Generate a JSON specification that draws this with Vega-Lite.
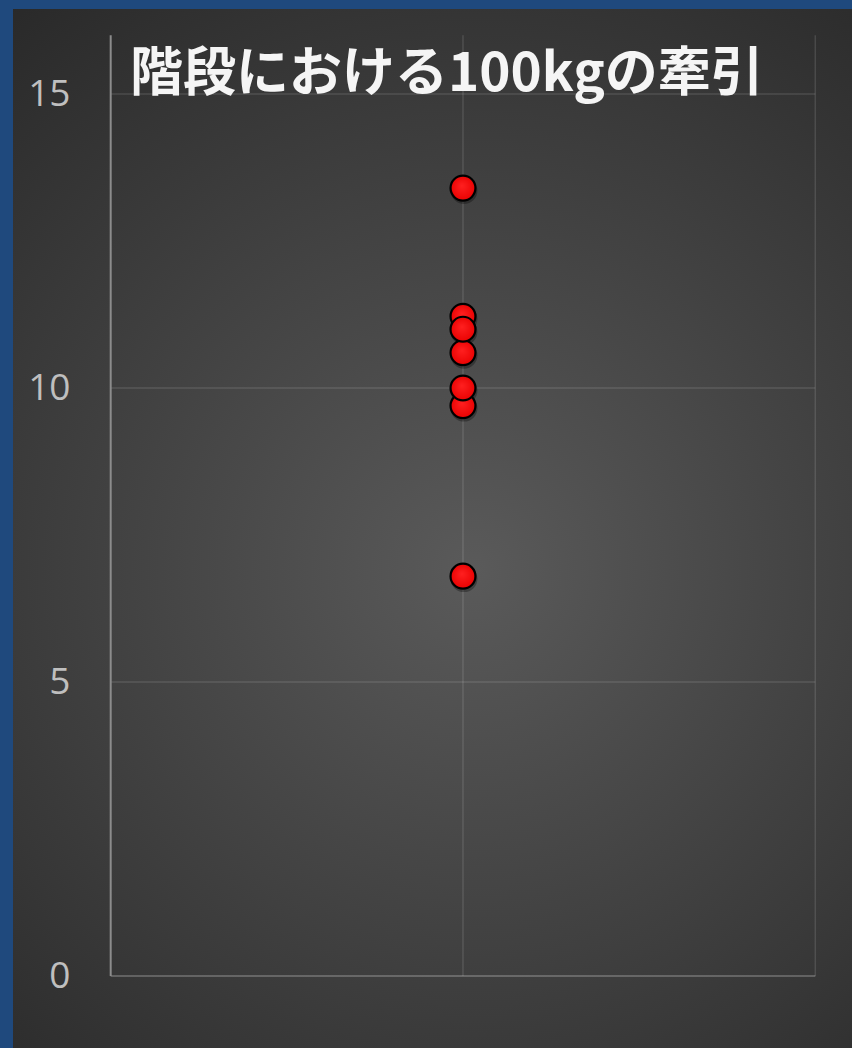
{
  "$schema": "https://vega.github.io/schema/vega-lite/v6.json",
  "width": 839,
  "height": 1039,
  "autosize": {"type": "none"},
  "padding": {"left": 13, "top": 9, "right": 0, "bottom": 0},
  "background": "#1f497d",
  "view": {
    "stroke": null,
    "fill": {
      "gradient": "radial",
      "x1": 0.54, "y1": 0.54, "r1": 0,
      "x2": 0.54, "y2": 0.54, "r2": 0.72,
      "stops": [
        {"offset": 0, "color": "#5a5a5a"},
        {"offset": 1, "color": "#282828"}
      ]
    }
  },
  "config": {
    "axisY": {
      "domain": false,
      "ticks": false,
      "tickSize": 0,
      "grid": false,
      "labelPadding": -57,
      "labelFontSize": 37,
      "labelColor": "#bfbfbf",
      "labelFont": "Open Sans",
      "labelAlign": "right",
      "labelBaseline": "middle"
    }
  },
  "layer": [
    {
      "data": {"values": [{"value": 5}, {"value": 10}, {"value": 15}]},
      "mark": {"type": "rule", "color": "#ffffff", "opacity": 0.12, "strokeWidth": 1.5},
      "encoding": {
        "x": {"datum": 0, "type": "quantitative", "scale": {"domain": [-0.2773, 2.1042], "nice": false, "zero": false}, "axis": null},
        "x2": {"datum": 2},
        "y": {"field": "value", "type": "quantitative", "scale": {"domain": [-1.2245, 16.446], "nice": false, "zero": false}, "axis": {"values": [0, 5, 10, 15], "title": null}}
      }
    },
    {
      "data": {"values": [{"x": 1}, {"x": 2}]},
      "mark": {"type": "rule", "color": "#ffffff", "opacity": 0.12, "strokeWidth": 1.5},
      "encoding": {
        "x": {"field": "x", "type": "quantitative", "scale": {"domain": [-0.2773, 2.1042], "nice": false, "zero": false}, "axis": null},
        "y": {"datum": 0, "type": "quantitative", "scale": {"domain": [-1.2245, 16.446], "nice": false, "zero": false}, "axis": {"values": [0, 5, 10, 15], "title": null}},
        "y2": {"datum": 16}
      }
    },
    {
      "data": {"values": [{"value": 0}]},
      "mark": {"type": "rule", "color": "#ffffff", "opacity": 0.22, "strokeWidth": 2},
      "encoding": {
        "x": {"datum": 0, "type": "quantitative", "scale": {"domain": [-0.2773, 2.1042], "nice": false, "zero": false}, "axis": null},
        "x2": {"datum": 2},
        "y": {"field": "value", "type": "quantitative", "scale": {"domain": [-1.2245, 16.446], "nice": false, "zero": false}, "axis": {"values": [0, 5, 10, 15], "title": null}}
      }
    },
    {
      "data": {"values": [{"x": 0}]},
      "mark": {"type": "rule", "color": "#8c8c8c", "strokeWidth": 2},
      "encoding": {
        "x": {"field": "x", "type": "quantitative", "scale": {"domain": [-0.2773, 2.1042], "nice": false, "zero": false}, "axis": null},
        "y": {"datum": 0, "type": "quantitative", "scale": {"domain": [-1.2245, 16.446], "nice": false, "zero": false}, "axis": {"values": [0, 5, 10, 15], "title": null}},
        "y2": {"datum": 16}
      }
    },
    {
      "data": {"values": [{"t": "階段における100kgの牽引"}]},
      "mark": {"type": "text", "align": "left", "baseline": "middle", "font": "Noto Sans CJK JP", "fontWeight": "bold", "fontSize": 53, "color": "#f5f5f5"},
      "encoding": {
        "text": {"field": "t"},
        "x": {"datum": 0.0548, "type": "quantitative", "scale": {"domain": [-0.2773, 2.1042], "nice": false, "zero": false}, "axis": null},
        "y": {"datum": 15.33, "type": "quantitative", "scale": {"domain": [-1.2245, 16.446], "nice": false, "zero": false}, "axis": {"values": [0, 5, 10, 15], "title": null}}
      }
    },
    {
      "data": {"name": "points", "values": [
        {"value": 13.4},
        {"value": 11.22},
        {"value": 10.6},
        {"value": 11.0},
        {"value": 9.7},
        {"value": 10.0},
        {"value": 6.8}
      ]},
      "mark": {
        "type": "point",
        "shape": "circle",
        "filled": true,
        "size": 720,
        "xOffset": 1,
        "yOffset": 2.5,
        "color": "#000000",
        "opacity": 0.3
      },
      "encoding": {
        "x": {"datum": 1, "type": "quantitative", "scale": {"domain": [-0.2773, 2.1042], "nice": false, "zero": false}, "axis": null},
        "y": {"field": "value", "type": "quantitative", "scale": {"domain": [-1.2245, 16.446], "nice": false, "zero": false}, "axis": {"values": [0, 5, 10, 15], "title": null}}
      }
    },
    {
      "data": {"values": [
        {"value": 13.4},
        {"value": 11.22},
        {"value": 10.6},
        {"value": 11.0},
        {"value": 9.7},
        {"value": 10.0},
        {"value": 6.8}
      ]},
      "mark": {
        "type": "point",
        "shape": "circle",
        "filled": true,
        "opacity": 1,
        "size": 620,
        "stroke": "#000000",
        "strokeWidth": 2.2,
        "fill": {
          "gradient": "radial",
          "x1": 0.45, "y1": 0.4, "r1": 0,
          "x2": 0.5, "y2": 0.5, "r2": 0.55,
          "stops": [
            {"offset": 0, "color": "#ff2020"},
            {"offset": 1, "color": "#e80000"}
          ]
        }
      },
      "encoding": {
        "x": {"datum": 1, "type": "quantitative", "scale": {"domain": [-0.2773, 2.1042], "nice": false, "zero": false}, "axis": null},
        "y": {"field": "value", "type": "quantitative", "scale": {"domain": [-1.2245, 16.446], "nice": false, "zero": false}, "axis": {"values": [0, 5, 10, 15], "title": null}}
      }
    }
  ]
}
